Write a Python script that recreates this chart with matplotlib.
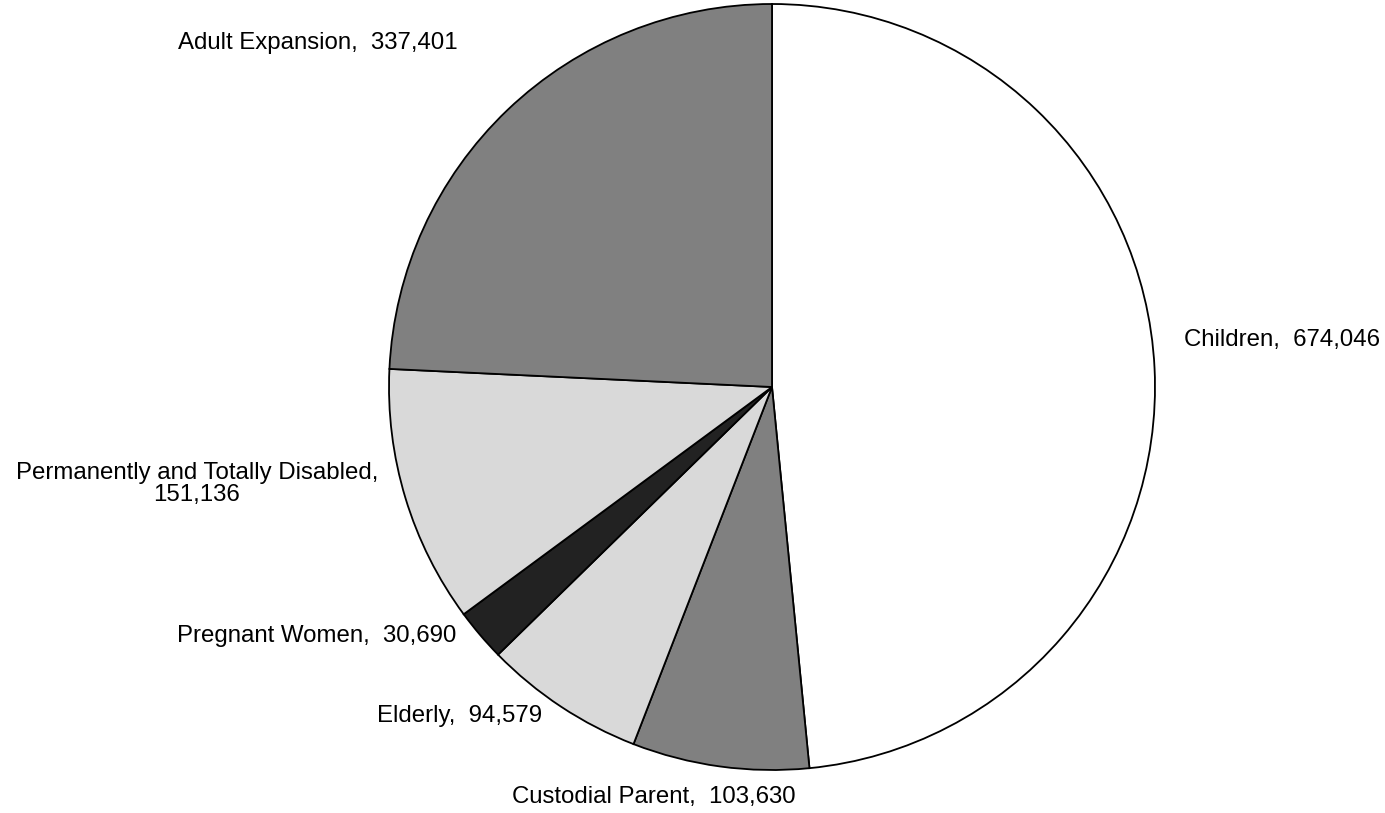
import matplotlib
matplotlib.use("Agg")
import matplotlib.pyplot as plt

categories = ["Children", "Custodial Parent", "Elderly", "Pregnant Women",
              "Permanently and Totally Disabled", "Adult Expansion"]
values = [674046, 103630, 94579, 30690, 151136, 337401]
colors = ["#ffffff", "#808080", "#d9d9d9", "#222222", "#d9d9d9", "#808080"]

plt.rcParams['font.family'] = ['Liberation Sans', 'DejaVu Sans']

W, H = 1385, 813
fig = plt.figure(figsize=(W / 100, H / 100), dpi=100)
ax = fig.add_axes([0, 0, 1, 1])
cx, cy, r = 772, 387, 383
ax.pie(values, colors=colors, startangle=90, counterclock=False,
       wedgeprops=dict(edgecolor="black", linewidth=1.3))
ax.set_xlim(-cx / r, (W - cx) / r)
ax.set_ylim(-(H - cy) / r, cy / r)
ax.set_aspect('equal')
ax.axis('off')

def px(x, y):
    return (x - cx) / r, (cy - y) / r

def fmt(i):
    return f"{categories[i]},  {values[i]:,}"

fs = 17.3
label_specs = [
    (0, 1184, 340, 'left', fmt(0)),
    (1, 654, 797, 'center', fmt(1)),
    (2, 542, 716, 'right', fmt(2)),
    (3, 456, 636, 'right', fmt(3)),
    (4, 197, 484, 'center', f"{categories[4]},\n{values[4]:,}"),
    (5, 458, 43, 'right', fmt(5)),
]
for i, x, y, ha, txt in label_specs:
    tx, ty = px(x, y)
    ax.text(tx, ty, txt, ha=ha, va='center', fontsize=fs, color='black',
            multialignment='center', linespacing=1.05)

fig.savefig("out.png", dpi=100, facecolor="white")
